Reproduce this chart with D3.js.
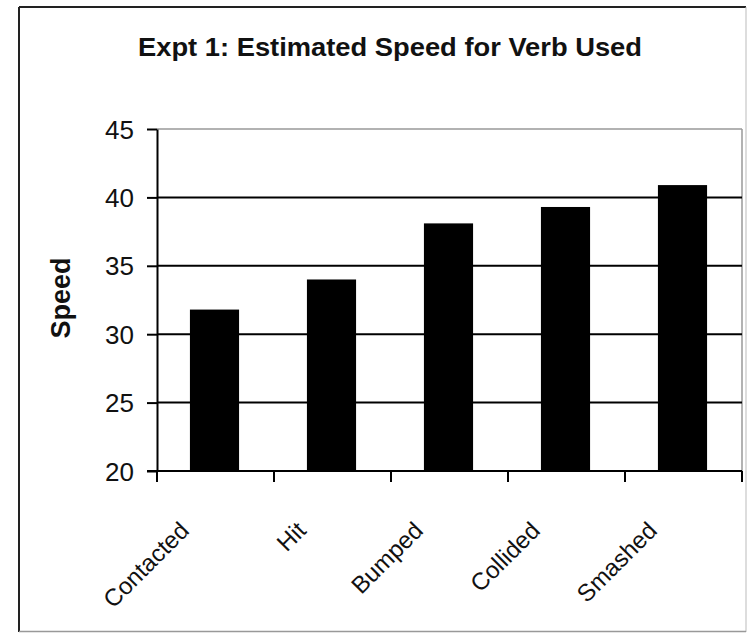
<!DOCTYPE html>
<html>
<head>
<meta charset="utf-8">
<script src="https://cdn.jsdelivr.net/npm/d3@7"></script>
<style>
  html, body { margin: 0; padding: 0; background: #fff; }
  svg { display: block; font-family: "Liberation Sans", Arial, sans-serif; }
</style>
</head>
<body>
<div id="chart"></div>
<script>
// Data
const verbs = ["Contacted", "Hit", "Bumped", "Collided", "Smashed"];
const speeds = [31.8, 34.0, 38.1, 39.3, 40.9];
const yTicks = [20, 25, 30, 35, 40, 45];
const title = "Expt 1: Estimated Speed for Verb Used";

const W = 752, H = 633;
const plot = { left: 157, right: 742, top: 129, bottom: 471 };

const svg = d3.select("#chart").append("svg")
    .attr("width", W)
    .attr("height", H);

svg.append("rect").attr("width", W).attr("height", H).attr("fill", "#fff");

// outer frame: dark top/left, grey right/bottom
svg.append("line").attr("x1", 19).attr("x2", 746).attr("y1", 7).attr("y2", 7)
    .attr("stroke", "#222").attr("stroke-width", 2);
svg.append("line").attr("x1", 19).attr("x2", 19).attr("y1", 7).attr("y2", 632)
    .attr("stroke", "#222").attr("stroke-width", 2);
svg.append("line").attr("x1", 746).attr("x2", 746).attr("y1", 7).attr("y2", 632)
    .attr("stroke", "#bbb").attr("stroke-width", 1);
svg.append("line").attr("x1", 19).attr("x2", 746).attr("y1", 631.5).attr("y2", 631.5)
    .attr("stroke", "#999").attr("stroke-width", 1.5);

// Scales
const x = d3.scaleBand().domain(verbs).range([plot.left, plot.right]).padding(0);
const y = d3.scaleLinear().domain([20, 45]).range([plot.bottom, plot.top]);
const barW = x.bandwidth() * 0.42;

// plot area border (grey top and right)
svg.append("line").attr("x1", plot.left).attr("x2", plot.right)
    .attr("y1", y(45)).attr("y2", y(45)).attr("stroke", "#999").attr("stroke-width", 1.5);
svg.append("line").attr("x1", plot.right).attr("x2", plot.right)
    .attr("y1", y(45)).attr("y2", plot.bottom).attr("stroke", "#999").attr("stroke-width", 1.5);

// gridlines
svg.append("g").selectAll("line")
    .data(yTicks.filter(d => d > 20 && d < 45))
    .join("line")
    .attr("x1", plot.left).attr("x2", plot.right)
    .attr("y1", d => y(d)).attr("y2", d => y(d))
    .attr("stroke", "#000").attr("stroke-width", 2);

// bars
svg.append("g").selectAll("rect")
    .data(verbs.map((v, i) => ({ verb: v, speed: speeds[i] })))
    .join("rect")
    .attr("x", d => x(d.verb) + x.bandwidth() / 2 - 1 - barW / 2)
    .attr("width", barW)
    .attr("y", d => y(d.speed))
    .attr("height", d => y(20) - y(d.speed))
    .attr("fill", "#000");

// y axis
const yAxis = svg.append("g")
    .attr("transform", `translate(${plot.left},0)`)
    .call(d3.axisLeft(y).tickValues(yTicks).tickSize(10).tickPadding(13).tickSizeOuter(0));
yAxis.select(".domain").attr("stroke", "#000").attr("stroke-width", 2);
yAxis.selectAll(".tick line").attr("stroke", "#000").attr("stroke-width", 2);
yAxis.selectAll(".tick text")
    .attr("fill", "#111")
    .style("font-size", "26px")
    .attr("dy", "0.35em");

// x axis: ticks at category boundaries
const xAxis = svg.append("g")
    .attr("transform", `translate(0,${plot.bottom})`);
xAxis.append("line").attr("x1", plot.left - 10).attr("x2", plot.right)
    .attr("stroke", "#000").attr("stroke-width", 2);
const bounds = verbs.map(v => x(v)).concat([plot.right]);
xAxis.selectAll("line.tk")
    .data(bounds)
    .join("line")
    .attr("class", "tk")
    .attr("x1", d => d).attr("x2", d => d)
    .attr("y1", 0).attr("y2", 11)
    .attr("stroke", "#000").attr("stroke-width", 2);

xAxis.selectAll("text")
    .data(verbs)
    .join("text")
    .attr("transform", d => `translate(${x(d) + x.bandwidth() / 2 - 25},61) rotate(-45)`)
    .attr("text-anchor", "end")
    .attr("fill", "#111")
    .style("font-size", "24px")
    .text(d => d);

// y axis title
svg.append("text")
    .attr("transform", "translate(70,298) rotate(-90)")
    .attr("text-anchor", "middle")
    .attr("fill", "#111")
    .style("font-size", "27px")
    .style("font-weight", "bold")
    .text("Speed");

// chart title
svg.append("text")
    .attr("x", 138)
    .attr("y", 56)
    .attr("textLength", 504)
    .attr("lengthAdjust", "spacingAndGlyphs")
    .attr("fill", "#111")
    .style("font-size", "26px")
    .style("font-weight", "bold")
    .text(title);
</script>
</body>
</html>
